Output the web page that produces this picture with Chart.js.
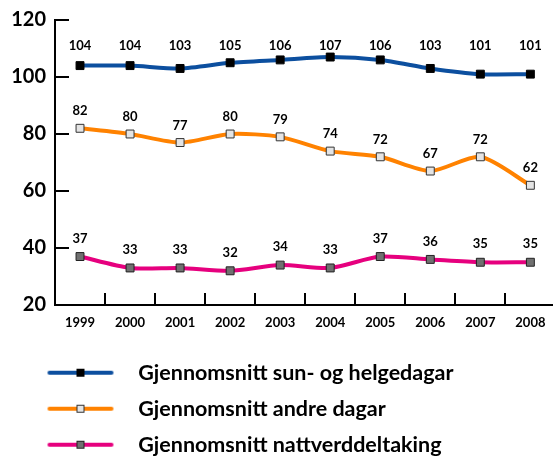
<!DOCTYPE html>
<html>
<head>
<meta charset="utf-8">
<script src="https://cdn.jsdelivr.net/npm/chart.js@4/dist/chart.umd.min.js"></script>
<style>
html, body { margin: 0; padding: 0; overflow: hidden; background: #fff; }
#c { display: block; }
</style>
</head>
<body>
<canvas id="c" width="562" height="457"></canvas>
<script>
const years = ['1999','2000','2001','2002','2003','2004','2005','2006','2007','2008'];
const sunHelg = [104,104,103,105,106,107,106,103,101,101];
const andreDagar = [82,80,77,80,79,74,72,67,72,62];
const nattverd = [37,33,33,32,34,33,37,36,35,35];
const seriesNames = ['Gjennomsnitt sun- og helgedagar','Gjennomsnitt andre dagar','Gjennomsnitt nattverddeltaking'];
const yTicks = [20,40,60,80,100,120];

const FONT = 'Lato, "Open Sans", sans-serif';
const colors = ['#0c4f9f', '#ff8200', '#e6007e'];
const markerFill = ['#000000', '#e4e4e4', '#707070'];
const markerBorder = ['#000000', '#333333', '#222222'];

const LEG_W = 113;
function legendImage(i) {
  const c = document.createElement('canvas');
  c.width = LEG_W; c.height = 12;
  const g = c.getContext('2d');
  g.strokeStyle = colors[i];
  g.lineWidth = 4;
  g.lineCap = 'round';
  g.beginPath(); g.moveTo(35, 6); g.lineTo(97, 6); g.stroke();
  g.fillStyle = markerFill[i];
  g.fillRect(62, 2, 8, 8);
  g.strokeStyle = markerBorder[i];
  g.lineWidth = 1;
  g.strokeRect(62.5, 2.5, 7, 7);
  return c;
}

const labelPlugin = {
  id: 'valueLabels',
  afterDatasetsDraw(chart, args, opts) {
    const ctx = chart.ctx;
    const yScale = chart.scales.y;
    ctx.save();
    ctx.font = 'bold 13px ' + FONT;
    ctx.fillStyle = '#000';
    ctx.textAlign = 'center';
    ctx.textBaseline = 'middle';
    chart.data.datasets.forEach((ds, di) => {
      const meta = chart.getDatasetMeta(di);
      const cfg = opts.series[di];
      meta.data.forEach((pt, i) => {
        const y = cfg.fixedValue != null ? yScale.getPixelForValue(cfg.fixedValue) : pt.y - cfg.offset;
        ctx.fillText(String(ds.data[i]), pt.x, y);
      });
    });
    ctx.restore();
  }
};

const dataSets = [sunHelg, andreDagar, nattverd];
new Chart(document.getElementById('c'), {
  type: 'line',
  data: {
    labels: years,
    datasets: dataSets.map((d, i) => ({
      label: seriesNames[i],
      data: d,
      borderColor: colors[i],
      backgroundColor: markerFill[i],
      borderWidth: 4,
      tension: 0.25,
      pointStyle: 'rect',
      pointRadius: 5.6,
      pointBorderWidth: 1,
      pointBorderColor: markerBorder[i],
      pointBackgroundColor: markerFill[i],
      fill: false
    }))
  },
  options: {
    responsive: false,
    animation: false,
    devicePixelRatio: 1,
    layout: { padding: { top: 20, right: 0, left: 0, bottom: -8.5 } },
    scales: {
      x: {
        type: 'category',
        offset: true,
        afterFit: s => { s.height = 42.5; s.paddingLeft = 0; s.paddingRight = 0; },
        grid: { offset: true, drawOnChartArea: false, tickLength: -12, lineWidth: 2, color: '#000' },
        border: { display: true, color: '#000', width: 2 },
        ticks: { font: { family: FONT, size: 13, weight: 'bold' }, color: '#000', padding: 22, maxRotation: 0 }
      },
      y: {
        min: 20, max: 120,
        afterBuildTicks: s => { s.ticks = yTicks.map(v => ({ value: v })); },
        afterFit: s => { s.width = 55; s.paddingTop = 0; s.paddingBottom = 0; },
        grid: { drawOnChartArea: false, tickLength: -14, lineWidth: 2, color: '#000' },
        border: { display: true, color: '#000', width: 2 },
        ticks: { font: { family: FONT, size: 20, weight: 'bold' }, color: '#000', padding: 23 }
      }
    },
    plugins: {
      tooltip: { enabled: false },
      valueLabels: { series: [ { fixedValue: 111.1 }, { offset: 17 }, { offset: 18 } ] },
      legend: {
        position: 'bottom',
        align: 'start',
        labels: {
          font: { family: FONT, size: 21.5, weight: 'bold' },
          color: '#000',
          usePointStyle: true,
          pointStyleWidth: LEG_W,
          padding: 14.5,
          generateLabels: chart => chart.data.datasets.map((ds, i) => ({
            text: ds.label,
            pointStyle: legendImage(i),
            fillStyle: colors[i],
            strokeStyle: colors[i],
            lineWidth: 0,
            hidden: false,
            datasetIndex: i,
            fontColor: '#000'
          }))
        }
      }
    }
  },
  plugins: [labelPlugin]
});
</script>
</body>
</html>
